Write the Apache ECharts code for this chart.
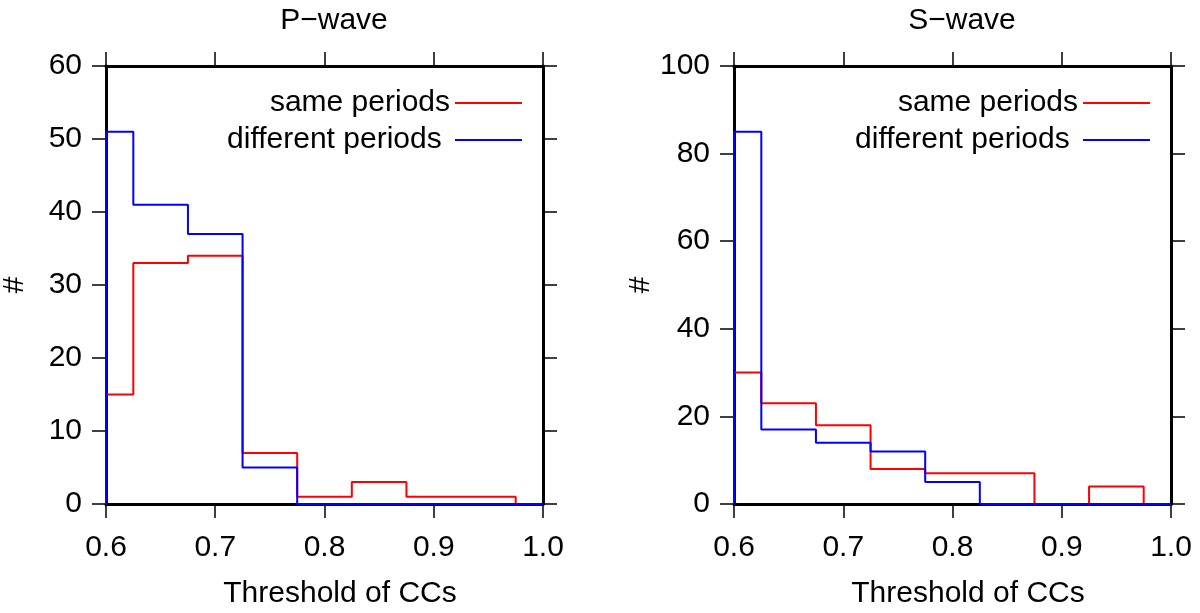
<!DOCTYPE html>
<html>
<head>
<meta charset="utf-8">
<script src="https://cdn.jsdelivr.net/npm/echarts@6/dist/echarts.min.js"></script>
<style>html,body{margin:0;padding:0;background:#fff}#c{width:1200px;height:613px}</style>
</head>
<body>
<div id="c"></div>
<script>
// Bin edges (CC threshold); first and last bins are half-width
const binEdges = [0.6, 0.625, 0.675, 0.725, 0.775, 0.825, 0.875, 0.925, 0.975, 1.0];
// P-wave counts per bin
const pSame = [15, 33, 34, 7, 1, 3, 1, 1, 0];
const pDiff = [51, 41, 37, 5, 0, 0, 0, 0, 0];
// S-wave counts per bin
const sSame = [30, 23, 18, 8, 7, 7, 0, 4, 0];
const sDiff = [85, 17, 14, 12, 5, 0, 0, 0, 0];
const panelTitles = ['P\u2212wave', 'S\u2212wave'];
const seriesNames = ['same periods', 'different periods'];
const xTitle = 'Threshold of CCs';
const yTitle = '#';

function stepPoints(vals) {
  const pts = [[binEdges[0], 0]];
  for (let i = 0; i < vals.length; i++) {
    pts.push([binEdges[i], vals[i]]);
    pts.push([binEdges[i + 1], vals[i]]);
  }
  pts.push([binEdges[binEdges.length - 1], 0]);
  return pts;
}

const FONT = 'Liberation Sans, Arial, sans-serif';
const FS = 30;
const chart = echarts.init(document.getElementById('c'), null, {renderer: 'canvas'});

const grids = [
  {left: 106, right: 657, top: 66, bottom: 109, containLabel: false, outerBoundsMode: 'none'},
  {left: 734, right: 29, top: 66, bottom: 109, containLabel: false, outerBoundsMode: 'none'}
];
const yMax = [60, 100];
const yInt = [10, 20];

const xAxes = [], yAxes = [], series = [], titles = [], legends = [];
const lineStyleAxis = {color: '#000', width: 3};
const tickStyle = {show: true, inside: false, length: 14, lineStyle: {color: '#000', width: 1.5}};
[0, 1].forEach(g => {
  xAxes.push({
    type: 'value', gridIndex: g, min: 0.6, max: 1.0, interval: 0.1, position: 'bottom',
    name: xTitle, nameLocation: 'middle', nameGap: 75,
    nameTextStyle: {fontFamily: FONT, fontSize: FS, color: '#000', padding: [0, 0, 0, 31]},
    axisLine: {show: true, onZero: false, lineStyle: lineStyleAxis},
    axisTick: tickStyle,
    axisLabel: {show: true, margin: 29, fontFamily: FONT, fontSize: FS, color: '#000',
      formatter: v => v.toFixed(1)},
    splitLine: {show: false}
  });
  xAxes.push({
    type: 'value', gridIndex: g, min: 0.6, max: 1.0, interval: 0.1, position: 'top',
    axisLine: {show: true, onZero: false, lineStyle: lineStyleAxis},
    axisTick: tickStyle,
    axisLabel: {show: false}, splitLine: {show: false}
  });
  yAxes.push({
    type: 'value', gridIndex: g, min: 0, max: yMax[g], interval: yInt[g], position: 'left',
    name: yTitle, nameLocation: 'middle', nameGap: 76, nameRotate: 90,
    nameTextStyle: {fontFamily: FONT, fontSize: FS, color: '#000'},
    axisLine: {show: true, onZero: false, lineStyle: lineStyleAxis},
    axisTick: tickStyle,
    axisLabel: {show: true, margin: 24, fontFamily: FONT, fontSize: FS, color: '#000'},
    splitLine: {show: false}
  });
  yAxes.push({
    type: 'value', gridIndex: g, min: 0, max: yMax[g], interval: yInt[g], position: 'right',
    axisLine: {show: true, onZero: false, lineStyle: lineStyleAxis},
    axisTick: tickStyle,
    axisLabel: {show: false}, splitLine: {show: false}
  });
  titles.push({
    text: panelTitles[g], left: (g === 0 ? 329 : 957), top: 1, textAlign: 'center',
    textStyle: {fontFamily: FONT, fontSize: FS, fontWeight: 'normal', color: '#000'}
  });
});

const data = [[pSame, pDiff], [sSame, sDiff]];
const colors = ['#ff0000', '#0000ff'];
[0, 1].forEach(g => {
  [0, 1].forEach(k => {
    series.push({
      type: 'line', name: seriesNames[k], xAxisIndex: g * 2, yAxisIndex: g * 2,
      data: stepPoints(data[g][k]), showSymbol: false, symbol: 'none', clip: false,
      color: colors[k], lineStyle: {color: colors[k], width: 2}, animation: false, z: 3 + k
    });
  });
  legends.push({
    data: seriesNames.map(n => ({name: n, icon: 'rect'})),
    formatter: n => (n === seriesNames[1] ? n + ' ' : n),
    orient: 'vertical', align: 'right', right: (g === 0 ? 678 : 50), top: 88,
    itemWidth: 67, itemHeight: 2, itemGap: 7, padding: 0,
    textStyle: {fontFamily: FONT, fontSize: FS, color: '#000'},
    selectedMode: false
  });
});

chart.setOption({
  animation: false,
  backgroundColor: '#fff',
  title: titles,
  legend: legends,
  grid: grids,
  xAxis: xAxes,
  yAxis: yAxes,
  series: series
});
</script>
</body>
</html>
